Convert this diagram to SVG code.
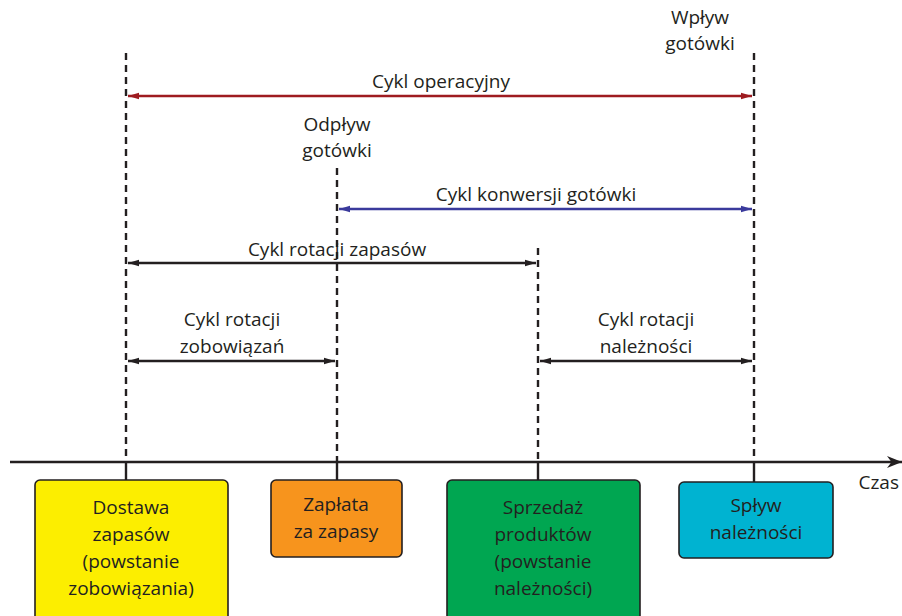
<svg xmlns="http://www.w3.org/2000/svg" width="902" height="616" viewBox="0 0 902 616">
<style>
text{font-family:"Open Sans","Noto Sans",sans-serif;font-size:19px;fill:#231f20;text-anchor:middle}
.dash{stroke:#231f20;stroke-width:2.4;stroke-dasharray:7 5;fill:none}
.tick{stroke:#231f20;stroke-width:2.4;fill:none}
.arr{stroke-width:2.6;fill:none}
.box{stroke:#231f20;stroke-width:1.6}
</style>
<defs>
<marker id="ak" viewBox="0 0 10 10" refX="10" refY="5" markerWidth="11" markerHeight="11" orient="auto-start-reverse" markerUnits="userSpaceOnUse"><path d="M0,2 L10,5 L0,8 Z" fill="#231f20"/></marker>
<marker id="ar" viewBox="0 0 10 10" refX="10" refY="5" markerWidth="11" markerHeight="11" orient="auto-start-reverse" markerUnits="userSpaceOnUse"><path d="M0,2 L10,5 L0,8 Z" fill="#9e1b20"/></marker>
<marker id="ab" viewBox="0 0 10 10" refX="10" refY="5" markerWidth="11" markerHeight="11" orient="auto-start-reverse" markerUnits="userSpaceOnUse"><path d="M0,2 L10,5 L0,8 Z" fill="#3a3a9c"/></marker>
<marker id="ax" viewBox="0 0 10 10" refX="10" refY="5" markerWidth="15" markerHeight="15" orient="auto" markerUnits="userSpaceOnUse"><path d="M0,1 L10,5 L0,9 L3,5 Z" fill="#231f20"/></marker>
</defs>
<g id="connectors">
<line class="dash" x1="126" y1="53" x2="126" y2="462"/>
<line class="dash" x1="337" y1="168" x2="337" y2="462"/>
<line class="dash" x1="538" y1="248" x2="538" y2="462"/>
<line class="dash" x1="754" y1="53" x2="754" y2="462"/>
<line class="tick" x1="126" y1="462" x2="126" y2="480"/>
<line class="tick" x1="337" y1="462" x2="337" y2="480"/>
<line class="tick" x1="538" y1="462" x2="538" y2="480"/>
<line class="tick" x1="754" y1="462" x2="754" y2="482"/>
<line x1="10" y1="462" x2="902" y2="462" stroke="#231f20" stroke-width="2.4" marker-end="url(#ax)"/>
<line class="arr" stroke="#9e1b20" x1="128" y1="96" x2="752" y2="96" marker-start="url(#ar)" marker-end="url(#ar)"/>
<line class="arr" stroke="#3a3a9c" x1="339" y1="209" x2="752" y2="209" marker-start="url(#ab)" marker-end="url(#ab)"/>
<line class="arr" stroke="#231f20" x1="128" y1="263" x2="536" y2="263" marker-start="url(#ak)" marker-end="url(#ak)"/>
<line class="arr" stroke="#231f20" x1="128" y1="361" x2="335" y2="361" marker-start="url(#ak)" marker-end="url(#ak)"/>
<line class="arr" stroke="#231f20" x1="540" y1="361" x2="752" y2="361" marker-start="url(#ak)" marker-end="url(#ak)"/>
</g>
<g id="labels">
<text x="441" y="88">Cykl operacyjny</text>
<text x="337" y="131">Odpływ</text>
<text x="337" y="157">gotówki</text>
<text x="700" y="24">Wpływ</text>
<text x="700" y="50">gotówki</text>
<text x="536" y="201">Cykl konwersji gotówki</text>
<text x="337" y="256">Cykl rotacji zapasów</text>
<text x="232" y="326">Cykl rotacji</text>
<text x="232" y="353">zobowiązań</text>
<text x="646" y="326">Cykl rotacji</text>
<text x="646" y="353">należności</text>
<text x="899" y="489" style="text-anchor:end">Czas</text>
</g>
<g id="n1">
<rect class="box" x="35" y="480" width="193" height="145" rx="5" fill="#fcee00"/>
<text x="131" y="514">Dostawa</text>
<text x="131" y="541">zapasów</text>
<text x="131" y="568">(powstanie</text>
<text x="131" y="595">zobowiązania)</text>
</g>
<g id="n2">
<rect class="box" x="271" y="480" width="131" height="77" rx="5" fill="#f7941d"/>
<text x="336" y="511">Zapłata</text>
<text x="336" y="538">za zapasy</text>
</g>
<g id="n3">
<rect class="box" x="447" y="480" width="193" height="145" rx="5" fill="#00a651"/>
<text x="543" y="514">Sprzedaż</text>
<text x="543" y="541">produktów</text>
<text x="543" y="568">(powstanie</text>
<text x="543" y="595">należności)</text>
</g>
<g id="n4">
<rect class="box" x="679" y="482" width="154" height="76" rx="5" fill="#00b3d1"/>
<text x="756" y="512">Spływ</text>
<text x="756" y="539">należności</text>
</g>
</svg>
